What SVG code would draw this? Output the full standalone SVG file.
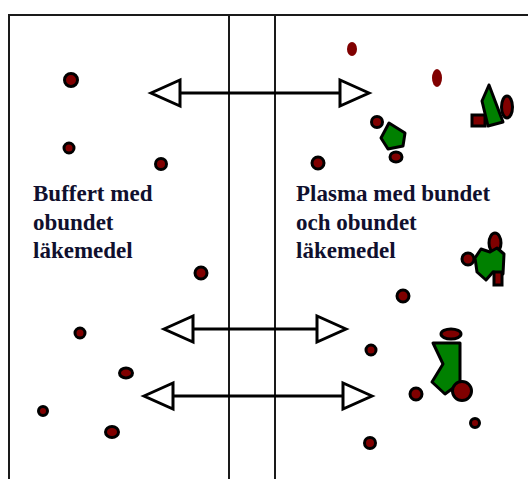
<svg xmlns="http://www.w3.org/2000/svg" width="528" height="479" viewBox="0 0 528 479">
  <defs>
    <style>
      .frame { stroke: #1a1a1a; stroke-width: 2; fill: none; }
      .line { stroke: #000; stroke-width: 3; fill: none; }
      .head { fill: #fff; stroke: #000; stroke-width: 3; stroke-linejoin: miter; }
      .mol { fill: #800000; stroke: #000; stroke-width: 3; }
      .free { fill: #800000; stroke: none; }
      .prot { fill: #008000; stroke: #000; stroke-width: 3; stroke-linejoin: round; }
      .lbl { font-family: "Liberation Serif", "Times New Roman", serif; font-weight: bold; font-size: 23px; fill: #10102e; }
    </style>
  </defs>
  <rect width="528" height="479" fill="#fff"/>

  <!-- chamber outline and membrane -->
  <g id="chamber">
    <path class="frame" d="M9,479 V15 H528"/>
    <line class="frame" x1="229" y1="15" x2="229" y2="479"/>
    <line class="frame" x1="275" y1="15" x2="275" y2="479"/>
  </g>

  <!-- diffusion arrows across the membrane -->
  <g id="connectors">
    <line class="line" x1="180" y1="93" x2="340" y2="93"/>
    <polygon class="head" points="151,93 180,80 180,106"/>
    <polygon class="head" points="369,93 340,80 340,106"/>

    <line class="line" x1="193" y1="329" x2="317" y2="329"/>
    <polygon class="head" points="164,329 193,316 193,342"/>
    <polygon class="head" points="346,329 317,316 317,342"/>

    <line class="line" x1="173" y1="396" x2="343" y2="396"/>
    <polygon class="head" points="144,396 173,383 173,409"/>
    <polygon class="head" points="372,396 343,383 343,409"/>
  </g>

  <!-- buffer side: free drug -->
  <g id="buffer">
    <circle class="mol" cx="71" cy="80" r="6.5"/>
    <circle class="mol" cx="69" cy="148" r="5"/>
    <circle class="mol" cx="161" cy="164" r="5.5"/>
    <circle class="mol" cx="201" cy="273" r="6"/>
    <circle class="mol" cx="80" cy="333" r="5"/>
    <ellipse class="mol" cx="126" cy="373" rx="6.5" ry="5"/>
    <circle class="mol" cx="43" cy="411" r="4.5"/>
    <ellipse class="mol" cx="112" cy="432" rx="6.5" ry="5.5"/>
    <text class="lbl" x="33" y="201">Buffert med</text>
    <text class="lbl" x="33" y="230">obundet</text>
    <text class="lbl" x="33" y="258">läkemedel</text>
  </g>

  <!-- plasma side: free and protein-bound drug -->
  <g id="plasma">
    <ellipse class="free" cx="352" cy="49" rx="5" ry="7"/>
    <ellipse class="free" cx="437" cy="78" rx="5" ry="9"/>
    <circle class="mol" cx="318" cy="163" r="6"/>

    <!-- complex 1 -->
    <circle class="mol" cx="377" cy="122" r="5.5"/>
    <polygon class="prot" points="381,138 389,123 405,133 403,146 388,149"/>
    <ellipse class="mol" cx="396" cy="157" rx="6" ry="5"/>

    <!-- complex 2 -->
    <rect class="mol" x="472" y="115" width="13" height="11"/>
    <polygon class="prot" points="489,85 482,101 488,126 503,122"/>
    <ellipse class="mol" cx="507" cy="107" rx="5.5" ry="11"/>

    <!-- complex 3 -->
    <ellipse class="mol" cx="495" cy="243" rx="6" ry="10"/>
    <circle class="mol" cx="468" cy="259" r="6"/>
    <polygon class="prot" points="475,258 481,249 490,252 497,248 504,254 503,274 493,272 486,280 477,272"/>
    <rect class="mol" x="494" y="272" width="8" height="13"/>

    <circle class="mol" cx="403" cy="296" r="6"/>
    <circle class="mol" cx="371" cy="350" r="5"/>
    <circle class="mol" cx="416" cy="394" r="6"/>

    <!-- complex 4 -->
    <ellipse class="mol" cx="451" cy="334" rx="10" ry="5"/>
    <polygon class="prot" points="433,343 460,343 460,383 445,394 432,382 443,364"/>
    <circle class="mol" cx="462" cy="391" r="9.5"/>

    <circle class="mol" cx="475" cy="423" r="4.5"/>
    <circle class="mol" cx="370" cy="443" r="5.5"/>

    <text class="lbl" x="296" y="201">Plasma med bundet</text>
    <text class="lbl" x="296" y="230">och obundet</text>
    <text class="lbl" x="296" y="258">läkemedel</text>
  </g>
</svg>
